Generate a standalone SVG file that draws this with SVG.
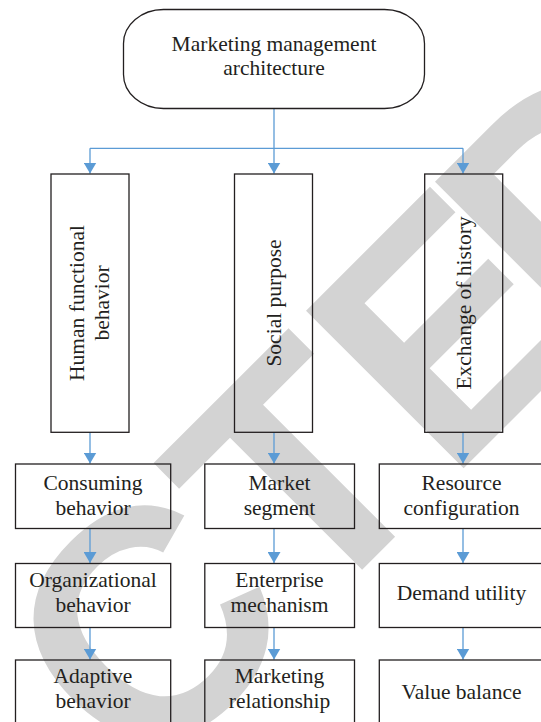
<svg xmlns="http://www.w3.org/2000/svg" width="541" height="722" viewBox="0 0 541 722">
<style>
.wm { font-family: "Liberation Sans", Arial, sans-serif; font-weight: bold; font-size: 324px; fill: #d3d3d3; }
.box { fill: none; stroke: #231f20; stroke-width: 1.3; }
.t { font-family: "Liberation Serif", "Times New Roman", serif; font-size: 21.5px; fill: #231f20; text-anchor: middle; }
.conn { stroke: #5b9bd5; stroke-width: 1.3; fill: none; }
.arrow { stroke: #5b9bd5; stroke-width: 1.3; fill: none; marker-end: url(#arr); }
</style>
<defs>
<marker id="arr" markerUnits="userSpaceOnUse" viewBox="0 0 11 13" markerWidth="11" markerHeight="13" refX="11" refY="6.5" orient="auto">
<path d="M0,0 L11,6.5 L0,13 Z" fill="#5b9bd5"/>
</marker>
</defs>
<rect width="541" height="722" fill="#ffffff"/>
<g id="watermark">
<text class="wm" transform="rotate(-45)" x="-1572.2 -1338.3 -1122.2 -924.2 -690.3 -456.4 -222.5 -25 157.4" y="659">RETRACTED</text>
</g>
<g id="connectors">
<path class="conn" d="M90,148.3 H463"/>
<path class="arrow" d="M274,108.5 V173.5"/>
<path class="arrow" d="M90,148.3 V173.5"/>
<path class="arrow" d="M463,148.3 V173.5"/>
<path class="arrow" d="M90,432.3 V463.5"/>
<path class="arrow" d="M274,432.3 V463.5"/>
<path class="arrow" d="M463,432.3 V463.5"/>
<path class="arrow" d="M90,528.5 V563"/>
<path class="arrow" d="M274,528.5 V563"/>
<path class="arrow" d="M463,528.5 V563"/>
<path class="arrow" d="M90,627.5 V659.5"/>
<path class="arrow" d="M274,627.5 V659.5"/>
<path class="arrow" d="M463,627.5 V659.5"/>
</g>
<g id="root">
<rect class="box" x="123.5" y="9.5" width="301" height="99" rx="40" ry="34"/>
<text class="t" x="274" y="50.5">Marketing management</text>
<text class="t" x="274" y="74.5">architecture</text>
</g>
<g id="human">
<rect class="box" x="51" y="174" width="78" height="258.3"/>
<text class="t" transform="translate(84,303) rotate(-90)" x="0" y="0">Human functional</text>
<text class="t" transform="translate(108.5,303) rotate(-90)" x="0" y="0">behavior</text>
</g>
<g id="social">
<rect class="box" x="234.5" y="174" width="78" height="258.3"/>
<text class="t" transform="translate(280.5,303) rotate(-90)" x="0" y="0">Social purpose</text>
</g>
<g id="exchange">
<rect class="box" x="424.7" y="174" width="78" height="258.3"/>
<text class="t" transform="translate(470.5,303) rotate(-90)" x="0" y="0">Exchange of history</text>
</g>
<g id="consuming">
<rect class="box" x="15.5" y="464" width="155.2" height="64.5"/>
<text class="t" x="93" y="490">Consuming</text>
<text class="t" x="93" y="515">behavior</text>
</g>
<g id="organizational">
<rect class="box" x="15.5" y="563.5" width="155.2" height="64"/>
<text class="t" x="93" y="586.7">Organizational</text>
<text class="t" x="93" y="611.7">behavior</text>
</g>
<g id="adaptive">
<rect class="box" x="15.5" y="660" width="155.2" height="64"/>
<text class="t" x="93" y="683.3">Adaptive</text>
<text class="t" x="93" y="708.3">behavior</text>
</g>
<g id="market">
<rect class="box" x="204.8" y="464" width="149.7" height="64.5"/>
<text class="t" x="279.5" y="490">Market</text>
<text class="t" x="279.5" y="515">segment</text>
</g>
<g id="enterprise">
<rect class="box" x="204.8" y="563.5" width="149.7" height="64"/>
<text class="t" x="279.5" y="586.7">Enterprise</text>
<text class="t" x="279.5" y="611.7">mechanism</text>
</g>
<g id="marketing">
<rect class="box" x="204.8" y="660" width="149.7" height="64"/>
<text class="t" x="279.5" y="683.3">Marketing</text>
<text class="t" x="279.5" y="708.3">relationship</text>
</g>
<g id="resource">
<rect class="box" x="379.3" y="464" width="164.5" height="64.5"/>
<text class="t" x="461.5" y="490">Resource</text>
<text class="t" x="461.5" y="515">configuration</text>
</g>
<g id="demand">
<rect class="box" x="379.3" y="563.5" width="164.5" height="64"/>
<text class="t" x="461.5" y="600">Demand utility</text>
</g>
<g id="value">
<rect class="box" x="379.3" y="660" width="164.5" height="64"/>
<text class="t" x="461.5" y="698.5">Value balance</text>
</g>
</svg>
